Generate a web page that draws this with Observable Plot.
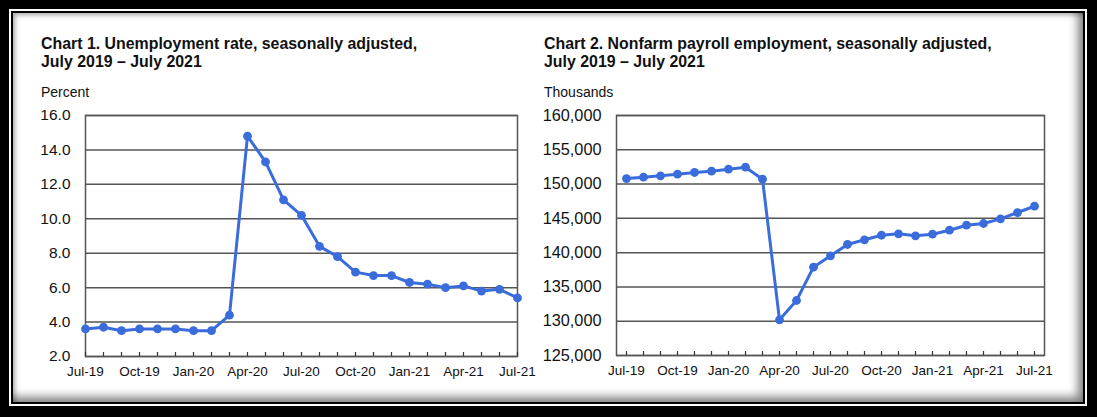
<!DOCTYPE html>
<html><head><meta charset="utf-8">
<script src="https://cdn.jsdelivr.net/npm/d3@7"></script>
<script src="https://cdn.jsdelivr.net/npm/@observablehq/plot@0.6"></script>
<style>
body{margin:0;background:#fff;font-family:"Liberation Sans",Arial,sans-serif}
#wrap{position:relative;width:1097px;height:417px;background:#000;overflow:hidden}
#gap{position:absolute;left:9px;top:9px;width:1078px;height:397px;background:#fff}
#inner{position:absolute;left:11px;top:11px;width:1070px;height:389px;border:2px solid #000;background:#fff;
 box-shadow: inset -8px -8px 10px -3px rgba(0,0,0,0.5), inset 3px 3px 5px -1px rgba(0,0,0,0.35);}
.t{position:absolute;font-weight:bold;font-size:15.9px;line-height:18px;color:#111;white-space:nowrap}
.u{position:absolute;font-size:14px;line-height:14px;color:#111;white-space:nowrap}
.c{position:absolute}
</style></head>
<body>
<div id="wrap">
 <div id="gap"></div>
 <div id="inner"></div>
 <div class="t" style="left:41px;top:35px">Chart 1. Unemployment rate, seasonally adjusted,<br>July 2019 – July 2021</div>
 <div class="u" style="left:41px;top:85px">Percent</div>
 <div class="t" style="left:544px;top:35px">Chart 2. Nonfarm payroll employment, seasonally adjusted,<br>July 2019 – July 2021</div>
 <div class="u" style="left:544px;top:85px">Thousands</div>
 <div class="c" id="c1" style="left:20px;top:100px"></div>
 <div class="c" id="c2" style="left:530px;top:100px"></div>
</div>
<script>
const months = ["Jul-19","Aug-19","Sep-19","Oct-19","Nov-19","Dec-19","Jan-20","Feb-20","Mar-20","Apr-20","May-20","Jun-20","Jul-20","Aug-20","Sep-20","Oct-20","Nov-20","Dec-20","Jan-21","Feb-21","Mar-21","Apr-21","May-21","Jun-21","Jul-21"];
const xTickLabels = ["Jul-19","Oct-19","Jan-20","Apr-20","Jul-20","Oct-20","Jan-21","Apr-21","Jul-21"];
const unemploymentRate = [3.6,3.7,3.5,3.6,3.6,3.6,3.5,3.5,4.4,14.8,13.3,11.1,10.2,8.4,7.8,6.9,6.7,6.7,6.3,6.2,6.0,6.1,5.8,5.9,5.4];
const payrollEmployment = [150800,151000,151200,151440,151690,151880,152170,152460,150710,130200,133020,137880,139540,141190,141870,142540,142740,142450,142690,143270,144000,144250,144930,145850,146770];
const rateTicks = [2,4,6,8,10,12,14,16];
const payrollTicks = [125000,130000,135000,140000,145000,150000,155000,160000];

const blue = "#3a6ddb";
const grid = "#555555";
const font = "'Liberation Sans', Arial, sans-serif";

function chart({values, yDomain, yTicks, yFormat, width, marginLeft, marginRight, marginBottom, yFont}) {
  const data = months.map((m, i) => ({month: m, value: values[i]}));
  return Plot.plot({
    width, height: 290, marginLeft, marginRight, marginTop: 15, marginBottom,
    style: {fontFamily: font, background: "transparent", color: "#111", overflow: "visible"},
    x: {type: "point", domain: months, padding: 0},
    y: {domain: yDomain},
    marks: [
      Plot.gridY(yTicks, {stroke: grid, strokeOpacity: 1, strokeWidth: 1.5}),
      Plot.frame({stroke: grid, strokeWidth: 1.5}),
      Plot.axisY(yTicks, {tickSize: 0, tickPadding: 15, tickFormat: yFormat, fontSize: yFont, label: null}),
      Plot.axisX(months, {tickSize: 4, dy: -4, fill: "none", stroke: "#333", strokeWidth: 1.2, label: null}),
      Plot.axisX(xTickLabels, {tickSize: 0, tickPadding: 10, fontSize: 13.5, label: null}),
      Plot.line(data, {x: "month", y: "value", stroke: blue, strokeWidth: 3}),
      Plot.dot(data, {x: "month", y: "value", fill: blue, r: 4.4})
    ]
  });
}

document.getElementById("c1").append(chart({
  values: unemploymentRate, yDomain: [2, 16], yTicks: rateTicks, yFormat: d => d.toFixed(1),
  width: 510, marginLeft: 65, marginRight: 13, marginBottom: 34, yFont: 15.5
}));
document.getElementById("c2").append(chart({
  values: payrollEmployment, yDomain: [125000, 160000], yTicks: payrollTicks, yFormat: d3.format(","),
  width: 530, marginLeft: 86, marginRight: 16, marginBottom: 35, yFont: 16.3
}));
</script>
</body></html>
